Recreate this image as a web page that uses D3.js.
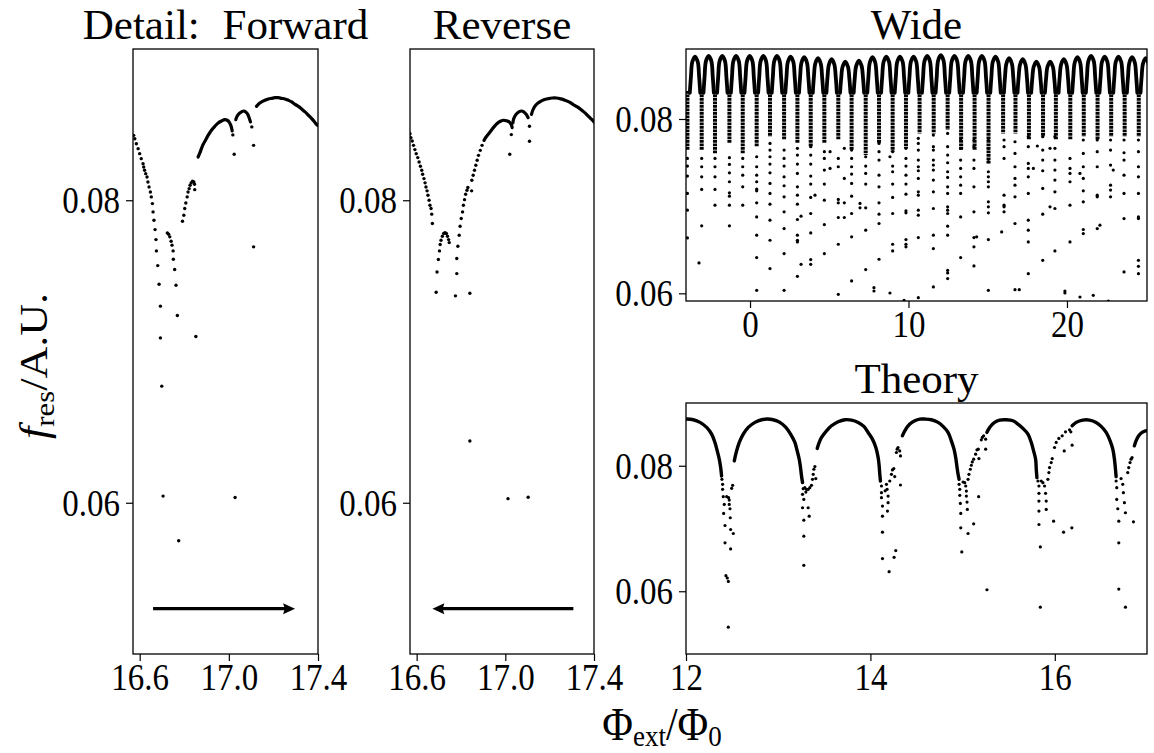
<!DOCTYPE html>
<html>
<head>
<meta charset="utf-8">
<script src="https://cdn.jsdelivr.net/npm/d3@7"></script>
<style>
  body { margin: 0; background: #fff; overflow: hidden; }
  text { font-family: "Liberation Serif", "Times New Roman", serif; fill: #000; }
</style>
</head>
<body>
<svg id="fig" width="1154" height="753"></svg>
<script>
// ---- data ----
const detailTicksX = [16.6, 17.0, 17.4];
const detailTicksY = [0.06, 0.08];
const wideTicksX = [0, 10, 20];
const wideTicksY = [0.06, 0.08];
const theoryTicksX = [12, 14, 16];
const theoryTicksY = [0.06, 0.08];

const arrowForward = [16.66, 17.297];
const arrowReverse = [17.307, 16.671];
const arrowLevel = 0.053;

// isolated points, Detail: Forward
const forwardDots = [
  [16.573,.08429],[16.578,.08407],[16.585,.08374],[16.593,.08341],[16.600,.08308],[16.607,.08275],[16.615,.08242],[16.618,.08220],
  [16.622,.08198],[16.627,.08176],[16.633,.08154],[16.637,.08121],[16.642,.08088],[16.648,.08055],[16.652,.08022],[16.657,.07978],
  [16.660,.07923],[16.664,.07868],[16.669,.07806],[16.673,.07740],[16.675,.07665],[16.681,.07568],
  [16.687,.07445],[16.693,.07300],[16.693,.07090],[16.699,.06771],[16.705,.06044],
  [16.724,.07784],[16.730,.07775],[16.735,.07758],[16.741,.07729],[16.745,.07703],[16.750,.07665],[16.751,.07610],[16.757,.07542],
  [16.763,.07438],[16.769,.07238],[16.775,.05749],[16.852,.07099],[17.028,.06035],
  [16.792,.07861],[16.798,.07901],[16.802,.07945],[16.807,.07982],[16.813,.08022],[16.817,.08055],[16.822,.08077],[16.826,.08099],
  [16.831,.08115],[16.837,.08126],[16.843,.08121],[16.846,.08106],[16.847,.08070],
  [17.018,.08432],[17.024,.08304],[17.103,.08485],[17.111,.08363],[17.111,.07692]
];
// densely sampled branches, Detail: Forward
const forwardArcs = [
  [[16.862,.08286],[16.870,.08313],[16.877,.08341],[16.885,.08370],[16.897,.08401],[16.907,.08429],[16.922,.08463],[16.937,.08489],
   [16.952,.08511],[16.967,.08524],[16.982,.08533],[16.993,.08529],[17.001,.08518],[17.007,.08502],[17.012,.08480],[17.015,.08458]],
  [[17.031,.08533],[17.037,.08555],[17.046,.08573],[17.057,.08584],[17.067,.08590],[17.076,.08584],[17.085,.08568],[17.091,.08546],[17.097,.08518]],
  [[17.124,.08621],[17.136,.08639],[17.147,.08650],[17.162,.08661],[17.177,.08670],[17.192,.08674],[17.207,.08678],[17.222,.08678],
   [17.237,.08674],[17.252,.08670],[17.267,.08661],[17.282,.08650],[17.297,.08634],[17.312,.08621],[17.327,.08603],[17.342,.08584],
   [17.357,.08562],[17.372,.08540],[17.387,.08513],[17.397,.08496]]
];

// isolated points, Reverse
const reverseDots = [
  [16.570,.08440],[16.574,.08414],[16.580,.08392],[16.586,.08363],[16.592,.08335],[16.598,.08308],[16.605,.08282],[16.611,.08253],
  [16.617,.08225],[16.623,.08198],[16.627,.08172],[16.633,.08143],[16.638,.08115],[16.642,.08088],[16.647,.08062],[16.651,.08033],
  [16.656,.08000],[16.660,.07967],[16.665,.07945],[16.668,.07908],[16.671,.07846],
  [16.692,.07526],[16.688,.07392],
  [16.698,.07608],[16.703,.07665],[16.706,.07707],[16.710,.07736],[16.716,.07762],[16.722,.07780],[16.728,.07786],[16.734,.07780],
  [16.739,.07762],[16.744,.07740],[16.747,.07720],
  [16.781,.07515],[16.775,.07368],[16.840,.07385],[16.840,.06408],[17.012,.06027],[17.103,.06036],
  [16.781,.07615],[16.786,.07696],[16.792,.07769],[16.796,.07828],[16.801,.07879],[16.807,.07923],[16.811,.07967],[16.816,.08004],
  [16.821,.08040],[16.827,.08066],[16.831,.08084],[16.848,.08062],
  [16.849,.08132],[16.855,.08165],[16.861,.08198],[16.867,.08231],[16.873,.08264],[16.879,.08297],[16.887,.08330],[16.895,.08363],
  [17.027,.08434],[17.020,.08304],[17.109,.08489],[17.109,.08390]
];
// densely sampled branches, Reverse
const reverseArcs = [
  [[16.904,.08396],[16.913,.08418],[16.925,.08440],[16.937,.08463],[16.949,.08485],[16.963,.08507],[16.978,.08522],[16.993,.08529],
   [17.008,.08524],[17.018,.08518],[17.026,.08502],[17.031,.08480]],
  [[17.034,.08511],[17.038,.08540],[17.049,.08568],[17.061,.08584],[17.073,.08590],[17.083,.08584],[17.094,.08568],[17.103,.08546]],
  [[17.118,.08568],[17.124,.08595],[17.133,.08621],[17.144,.08639],[17.159,.08654],[17.174,.08665],[17.194,.08672],[17.212,.08676],
   [17.230,.08676],[17.250,.08670],[17.269,.08661],[17.287,.08650],[17.305,.08634],[17.325,.08617],[17.345,.08595],[17.363,.08573],
   [17.378,.08551],[17.393,.08529],[17.405,.08511]]
];

// Wide: dense arch tops, one per flux period
const wideArches = [
  [[-3.80,.0830],[-3.73,.0848],[-3.64,.08656],[-3.47,.08716],[-3.30,.08656],[-3.21,.0848],[-3.14,.0830]],
  [[-2.94,.0830],[-2.87,.0848],[-2.78,.08664],[-2.61,.08724],[-2.44,.08664],[-2.35,.0848],[-2.28,.0830]],
  [[-2.08,.0830],[-2.01,.0848],[-1.92,.08664],[-1.75,.08724],[-1.58,.08664],[-1.49,.0848],[-1.42,.0830]],
  [[-1.21,.0830],[-1.14,.0848],[-1.05,.08664],[-0.88,.08724],[-0.71,.08664],[-0.62,.0848],[-0.55,.0830]],
  [[-0.35,.0830],[-0.28,.0848],[-0.19,.08664],[-0.02,.08724],[0.15,.08664],[0.24,.0848],[0.31,.0830]],
  [[0.51,.0830],[0.58,.0848],[0.67,.08664],[0.84,.08724],[1.01,.08664],[1.10,.0848],[1.17,.0830]],
  [[1.37,.0830],[1.44,.0848],[1.53,.08664],[1.70,.08724],[1.87,.08664],[1.96,.0848],[2.03,.0830]],
  [[2.23,.0830],[2.30,.0848],[2.39,.08656],[2.56,.08716],[2.73,.08656],[2.82,.0848],[2.89,.0830]],
  [[3.09,.0830],[3.16,.0848],[3.25,.08649],[3.42,.08709],[3.59,.08649],[3.68,.0848],[3.75,.0830]],
  [[3.96,.0830],[4.03,.0848],[4.12,.08637],[4.29,.08697],[4.46,.08637],[4.55,.0848],[4.62,.0830]],
  [[4.82,.0830],[4.89,.0848],[4.98,.08626],[5.15,.08686],[5.32,.08626],[5.41,.0848],[5.48,.0830]],
  [[5.68,.0830],[5.75,.0846],[5.84,.08599],[6.01,.08659],[6.18,.08599],[6.27,.0846],[6.34,.0830]],
  [[6.54,.0830],[6.61,.0847],[6.70,.0861],[6.87,.0867],[7.04,.0861],[7.13,.0847],[7.20,.0830]],
  [[7.40,.0830],[7.47,.0848],[7.56,.08649],[7.73,.08709],[7.90,.08649],[7.99,.0848],[8.06,.0830]],
  [[8.27,.0830],[8.34,.0848],[8.43,.08656],[8.60,.08716],[8.77,.08656],[8.86,.0848],[8.93,.0830]],
  [[9.13,.0830],[9.20,.0848],[9.29,.08656],[9.46,.08716],[9.63,.08656],[9.72,.0848],[9.79,.0830]],
  [[9.99,.0830],[10.06,.0848],[10.15,.08656],[10.32,.08716],[10.49,.08656],[10.58,.0848],[10.65,.0830]],
  [[10.85,.0830],[10.92,.0848],[11.01,.08664],[11.18,.08724],[11.35,.08664],[11.44,.0848],[11.51,.0830]],
  [[11.71,.0830],[11.78,.0848],[11.87,.08672],[12.04,.08732],[12.21,.08672],[12.30,.0848],[12.37,.0830]],
  [[12.57,.0830],[12.64,.0848],[12.73,.08664],[12.90,.08724],[13.07,.08664],[13.16,.0848],[13.23,.0830]],
  [[13.44,.0830],[13.51,.0848],[13.60,.08664],[13.77,.08724],[13.94,.08664],[14.03,.0848],[14.10,.0830]],
  [[14.30,.0830],[14.37,.0848],[14.46,.08664],[14.63,.08724],[14.80,.08664],[14.89,.0848],[14.96,.0830]],
  [[15.16,.0830],[15.23,.0848],[15.32,.08656],[15.49,.08716],[15.66,.08656],[15.75,.0848],[15.82,.0830]],
  [[16.02,.0830],[16.09,.0848],[16.18,.08637],[16.35,.08697],[16.52,.08637],[16.61,.0848],[16.68,.0830]],
  [[16.88,.0830],[16.95,.0848],[17.04,.08626],[17.21,.08686],[17.38,.08626],[17.47,.0848],[17.54,.0830]],
  [[17.74,.0830],[17.81,.0846],[17.90,.08599],[18.07,.08659],[18.24,.08599],[18.33,.0846],[18.40,.0830]],
  [[18.61,.0830],[18.68,.0846],[18.77,.08599],[18.94,.08659],[19.11,.08599],[19.20,.0846],[19.27,.0830]],
  [[19.47,.0830],[19.54,.0848],[19.63,.08626],[19.80,.08686],[19.97,.08626],[20.06,.0848],[20.13,.0830]],
  [[20.33,.0830],[20.40,.0848],[20.49,.08649],[20.66,.08709],[20.83,.08649],[20.92,.0848],[20.99,.0830]],
  [[21.19,.0830],[21.26,.0848],[21.35,.08664],[21.52,.08724],[21.69,.08664],[21.78,.0848],[21.85,.0830]],
  [[22.05,.0830],[22.12,.0848],[22.21,.08656],[22.38,.08716],[22.55,.08656],[22.64,.0848],[22.71,.0830]],
  [[22.92,.0830],[22.99,.0848],[23.08,.08656],[23.25,.08716],[23.42,.08656],[23.51,.0848],[23.58,.0830]],
  [[23.78,.0830],[23.85,.0848],[23.94,.08649],[24.11,.08709],[24.28,.08649],[24.37,.0848],[24.44,.0830]],
  [[24.64,.0830],[24.71,.0848],[24.80,.08637],[24.97,.08697],[25.14,.08637],[25.23,.0848],[25.30,.0830]]
];
// Wide: dense dip columns (x, lower end of the dense run)
const wideDipTop = 0.0832;
const wideDipX = [-3.95,-3.05,-2.21,-1.30,-0.46,0.42,1.26,2.15,2.99,3.83,4.69,5.57,6.41,7.30,8.14,9.00,9.84,
  10.70,11.59,12.47,13.32,14.17,15.05,15.97,16.75,17.60,18.49,19.30,20.21,21.06,21.93,22.79,23.64,24.53];
const wideDipEnd = [.07644,.07644,.07605,.07720,.07605,.07682,.07797,.07759,.07720,.07682,.07720,.07759,.07644,.07586,.07720,.07625,.07663,
  .07835,.07835,.07874,.07644,.07644,.07490,.07835,.07835,.07759,.07797,.07759,.07759,.07797,.07759,.07797,.07797,.07797];
// Wide: sparse points below the dense runs, by column
const wideDotCols = [
  [-3.95,[.07548,.0746,.07345,.07146,.06954,.06636]],
  [-3.22,[.06349]],
  [-3.05,[.07548,.07452,.07337,.07192,.06774]],
  [-2.21,[.07548,.07452,.07337,.07192,.07011]],
  [-1.30,[.07556,.07479,.07383,.0728,.07153,.07115,.07011,.06774]],
  [-0.46,[.07548,.07452,.07356,.07222,.07011]],
  [0.42,[.07567,.07452,.07356,.0728,.07195,.07176,.07038,.06877,.06667,.0641,.06034]],
  [1.26,[.0772,.07644,.07567,.07483,.07383,.07261,.07146,.07023,.06839,.06609,.06284]],
  [2.15,[.07644,.07548,.0746,.07337,.07234,.07107,.06935,.06743,.06456,.06034]],
  [2.99,[.07663,.07586,.07483,.07375,.07222,.07126,.07023,.06847,.06667,.06609,.0659,.06195]],
  [3.22,[.06885,.06333]],
  [3.83,[.07682,.07586,.07483,.07345,.07253,.071,.06916,.06693,.06387,.06333]],
  [4.10,[.07126]],
  [4.69,[.07625,.07548,.07414,.07253,.07069,.06789,.06456]],
  [5.05,[.07625,.07433]],
  [5.57,[.07548,.07452,.07077,.07038,.0687,.06563,.05989]],
  [5.95,[.07663,.07318,.07038,.0687]],
  [6.41,[.07644,.07548,.07452,.07368,.07261,.07115,.06916,.06648,.06142]],
  [6.94,[.07031,.06981]],
  [7.30,[.07567,.0746,.07375,.07253,.06981,.06724,.06272]],
  [7.82,[.06065,.06027]],
  [8.14,[.0772,.07625,.07529,.07356,.07222,.07038,.06908,.06801,.06391]],
  [8.83,[.07567,.06004]],
  [9.00,[.07625,.0746,.07395,.07253,.071,.06916,.06563,.06487]],
  [9.72,[.0592]],
  [9.84,[.07663,.07548,.0746,.07356,.07253,.07138,.06946,.06923,.06617,.06563,.06533]],
  [10.62,[.07778,.0772,.07644,.07529,.07452,.07406,.07318,.07165,.07126,.06954,.06897,.0664,.0595]],
  [11.57,[.07816,.07682,.07644,.07529,.07471,.07414,.07299,.07165,.06973,.06667,.06513,.06073]],
  [12.47,[.07835,.07682,.07586,.07498,.07395,.0733,.07222,.07146,.06992,.06954,.06916,.0677,.06667,.06264,.06234,.06169]],
  [13.29,[.07759,.07663,.07529,.07433,.07337,.07241,.07146,.06877,.0641]],
  [14.13,[.07759,.07682,.07529,.07433,.07222,.06935,.0664,.06533,.06314]],
  [14.30,[.06648]],
  [15.04,[.07759,.07663,.0751,.07395,.07337,.0728,.07222,.0705,.06992,.06923,.06617,.06034]],
  [15.88,[.06705]],
  [16.03,[.07759,.07682,.07548,.07126,.07011,.06992,.06935]],
  [16.72,[.07739,.07605,.07452,.07318,.07241,.07107,.06801,.06042]],
  [16.99,[.06042]],
  [17.56,[.07797,.07682,.0749,.07433,.07337,.07146,.06839,.06724,.0659,.06226]],
  [17.88,[.07433]],
  [18.13,[.0769]],
  [18.47,[.07797,.07644,.07529,.07406,.07203,.06908,.06379]],
  [18.93,[.07663,.06992]],
  [19.24,[.07797,.07663,.07529,.07414,.07299,.07165,.06973,.06487]],
  [19.87,[.06027,.06004]],
  [20.19,[.07548,.07433,.07375,.0728,.07011,.0659]],
  [20.82,[.07375,.05958]],
  [21.03,[.07759,.07605,.07452,.07318,.07176,.0705,.06732,.06686]],
  [21.66,[.05977]],
  [21.91,[.07759,.07625,.07452,.07126,.07107,.06743]],
  [22.08,[.06782]],
  [22.61,[.05912]],
  [22.75,[.07759,.07644,.07471,.07241,.07184,.07107]],
  [22.92,[.07414]],
  [23.60,[.07759,.07613,.07529,.07356,.07146,.06858,.06245]],
  [24.51,[.07759,.07625,.07452,.07337,.07146,.06877,.06858,.06379,.0631,.06226]]
];

// Theory: dense arches
const theoryArcs = [
  [[12.007,.08744],[12.079,.08733],[12.152,.08691],[12.224,.08611],[12.278,.08504],[12.314,.08371],[12.339,.08237],[12.361,.08104],[12.376,.07971],[12.386,.07837]],
  [[12.524,.08077],[12.531,.08131],[12.549,.08237],[12.578,.08371],[12.621,.08504],[12.675,.08611],[12.748,.08691],[12.820,.08733],[12.881,.08744],
   [12.946,.08733],[13.018,.08691],[13.083,.08611],[13.134,.08504],[13.181,.08371],[13.206,.08237],[13.228,.08104],[13.242,.07971],[13.253,.07837],[13.264,.07731]],
  [[13.423,.08275],[13.445,.08371],[13.470,.08451],[13.524,.08557],[13.578,.08637],[13.650,.08701],[13.723,.08733],[13.795,.08728],[13.867,.08691],
   [13.929,.08627],[13.975,.08531],[14.022,.08424],[14.059,.08291],[14.084,.08131],[14.095,.07997],[14.102,.07864],[14.109,.07757]],
  [[14.347,.08477],[14.373,.08557],[14.427,.08664],[14.481,.08717],[14.535,.08744],[14.589,.08744],[14.661,.08733],[14.734,.08691],[14.788,.08627],
   [14.842,.08531],[14.878,.08397],[14.907,.08264],[14.925,.08131],[14.940,.07971],[14.951,.07864],[14.962,.07784]],
  [[15.264,.08531],[15.293,.08611],[15.347,.08691],[15.402,.08728],[15.474,.08733],[15.546,.08717],[15.600,.08664],[15.654,.08595],[15.709,.08504],
   [15.745,.08371],[15.770,.08237],[15.792,.08104],[15.799,.07944],[15.806,.07811]],
  [[16.188,.08637],[16.232,.08691],[16.304,.08728],[16.376,.08728],[16.448,.08691],[16.503,.08627],[16.557,.08531],[16.600,.08397],[16.629,.08264],
   [16.647,.08104],[16.658,.07944],[16.665,.07827]],
  [[16.863,.08317],[16.881,.08397],[16.910,.08477],[16.947,.08531],[16.983,.08557],[17.008,.08557]]
];
// Theory: scattered points
const theoryDots = [
  [12.390,.07784],[12.397,.07704],[12.397,.07624],[12.404,.07507],[12.441,.07507],[12.462,.07491],[12.469,.07453],[12.415,.07384],[12.469,.07384],
  [12.408,.0724],[12.477,.07315],[12.480,.07171],[12.423,.07048],[12.484,.06984],[12.513,.0692],[12.423,.06771],[12.484,.06675],[12.433,.06248],
  [12.448,.06211],[12.459,.06157],[12.459,.05427],[12.495,.0764],[12.506,.07688],
  [13.271,.07635],[13.289,.07651],[13.307,.07624],[13.325,.07624],[13.343,.07651],[13.264,.07544],[13.278,.07464],[13.264,.07331],[13.325,.07331],
  [13.278,.07133],[13.336,.07197],[13.278,.06877],[13.278,.06413],[13.361,.07688],[13.372,.07784],[13.380,.07864],[13.387,.07944],[13.398,.07987],
  [13.408,.07795],[13.300,.07580],
  [14.120,.07677],[14.120,.07571],[14.120,.07491],[14.131,.07357],[14.131,.07197],[14.131,.06941],[14.131,.0652],[14.174,.07704],[14.181,.07624],
  [14.192,.07517],[14.192,.07411],[14.185,.07277],[14.203,.06312],[14.257,.06541],[14.275,.06648],[14.210,.07757],[14.228,.07864],[14.239,.07933],
  [14.254,.07955],[14.264,.07827],[14.282,.08211],[14.290,.08264],[14.300,.08291],[14.318,.08237],[14.326,.08157],[14.326,.07693],[14.160,.07600],
  [14.962,.07704],[14.969,.07624],[14.969,.07528],[14.976,.074],[14.980,.0724],[14.980,.07011],[14.991,.06627],[15.005,.07741],[15.023,.07731],
  [15.034,.07677],[15.041,.07597],[15.041,.07517],[15.048,.07421],[15.051,.07304],[15.059,.0692],[15.120,.07075],[15.174,.07507],[15.264,.06024],
  [15.059,.07784],[15.069,.07864],[15.084,.07944],[15.095,.08008],[15.105,.08061],[15.120,.08104],[15.141,.08184],[15.156,.08253],[15.170,.08264],
  [15.177,.08115],[15.203,.08413],[15.214,.08451],[15.228,.08477],[15.250,.08424],[15.250,.08264],
  [15.817,.07757],[15.828,.07677],[15.828,.0756],[15.828,.07437],[15.828,.07277],[15.828,.07064],[15.843,.06707],[15.843,.05747],[15.853,.07757],
  [15.871,.07731],[15.889,.07677],[15.900,.0756],[15.907,.07437],[15.907,.07304],[15.987,.07117],[16.095,.06941],[16.185,.07011],[16.102,.08237],
  [16.188,.08328],[15.925,.07784],[15.936,.07891],[15.943,.07971],[15.961,.08051],[15.972,.08115],[15.997,.08291],[16.015,.08371],[16.044,.08435],
  [16.080,.08477],[16.116,.08541],[16.160,.08573],[16.174,.08541],
  [16.665,.07757],[16.672,.07651],[16.672,.07464],[16.683,.07315],[16.694,.07117],[16.694,.06771],[16.694,.06035],[16.766,.05747],[16.719,.07795],
  [16.737,.07704],[16.744,.07571],[16.755,.07411],[16.766,.07251],[16.853,.07107],[16.791,.07891],[16.802,.07971],[16.816,.08051],[16.827,.08104],
  [16.838,.08131]
];

// ---- drawing ----
const svg = d3.select("#fig");
svg.append("rect").attr("width", 1154).attr("height", 753).attr("fill", "#fff");
const TICK_STRETCH = 1.15;
const arcLine = d3.line().curve(d3.curveCatmullRom);

function makePanel(id, box, xDom, yDom, xTicks, yTicks, xFmt, yFmt) {
  const x = d3.scaleLinear().domain(xDom).range([box.l, box.r]);
  const y = d3.scaleLinear().domain(yDom).range([box.b, box.t]);
  svg.append("clipPath").attr("id", id).append("rect")
    .attr("x", box.l).attr("y", box.t).attr("width", box.r - box.l).attr("height", box.b - box.t);

  const gx = svg.append("g").attr("transform", `translate(0,${box.b})`)
    .call(d3.axisBottom(x).tickValues(xTicks).tickFormat(xFmt).tickSize(7).tickSizeOuter(0));
  const gy = svg.append("g").attr("transform", `translate(${box.l},0)`)
    .call(d3.axisLeft(y).tickValues(yTicks).tickFormat(yFmt).tickSize(7).tickSizeOuter(0));
  [gx, gy].forEach(g => {
    g.select(".domain").remove();
    g.selectAll(".tick line").attr("stroke", "#000").attr("stroke-width", 1.2);
    g.selectAll(".tick text").attr("x", null).attr("y", null).attr("dy", null).attr("font-size", 33);
  });
  gx.selectAll(".tick text").attr("transform", `translate(0,36) scale(1,${TICK_STRETCH})`);
  gy.selectAll(".tick text").attr("transform", `translate(-13,12.5) scale(1,${TICK_STRETCH})`);

  const g = svg.append("g").attr("clip-path", `url(#${id})`);
  return { x, y, g, box };
}

function frame(p) {
  svg.append("rect").attr("x", p.box.l).attr("y", p.box.t)
    .attr("width", p.box.r - p.box.l).attr("height", p.box.b - p.box.t)
    .attr("fill", "none").attr("stroke", "#000").attr("stroke-width", 1.3);
}

function drawDots(p, dots, r) {
  p.g.selectAll(null).data(dots).join("circle")
    .attr("cx", d => p.x(d[0])).attr("cy", d => p.y(d[1])).attr("r", r).attr("fill", "#000");
}

function drawArcs(p, arcs, w) {
  p.g.selectAll(null).data(arcs).join("path")
    .attr("d", a => arcLine(a.map(d => [p.x(d[0]), p.y(d[1])])))
    .attr("fill", "none").attr("stroke", "#000").attr("stroke-width", w)
    .attr("stroke-linecap", "round").attr("stroke-linejoin", "round");
}

function drawArrow(p, xs, yv) {
  const x0 = p.x(xs[0]), x1 = p.x(xs[1]), yy = p.y(yv);
  const dir = Math.sign(x1 - x0), head = 12;
  p.g.append("line").attr("x1", x0).attr("x2", x1 - dir * head * 0.8).attr("y1", yy).attr("y2", yy)
    .attr("stroke", "#000").attr("stroke-width", 3.2);
  p.g.append("path")
    .attr("d", `M${x1},${yy} L${x1 - dir * head},${yy - 5.5} L${x1 - dir * head * 0.85},${yy} L${x1 - dir * head},${yy + 5.5} Z`)
    .attr("fill", "#000");
}

function title(p, label, spacing) {
  svg.append("text").attr("text-anchor", "middle").attr("font-size", 43)
    .attr("word-spacing", spacing || 0)
    .attr("x", (p.box.l + p.box.r) / 2).attr("y", p.box.t - 10)
    .text(label);
}

const f1 = d3.format(".1f"), f2 = d3.format(".2f"), f0 = d3.format("d");

// Detail: Forward
const pF = makePanel("clipF", { l: 133, r: 318, t: 49, b: 654 }, [16.57, 17.4], [0.05, 0.09],
  detailTicksX, detailTicksY, f1, f2);
drawArcs(pF, forwardArcs, 3.2);
drawDots(pF, forwardDots, 1.7);
drawArrow(pF, arrowForward, arrowLevel);
frame(pF);
title(pF, "Detail: Forward", 12);

// Reverse
const pR = makePanel("clipR", { l: 410, r: 594, t: 49, b: 654 }, [16.57, 17.4], [0.05, 0.09],
  detailTicksX, detailTicksY, f1, f2);
drawArcs(pR, reverseArcs, 3.2);
drawDots(pR, reverseDots, 1.7);
drawArrow(pR, arrowReverse, arrowLevel);
frame(pR);
title(pR, "Reverse");

// Wide
const pW = makePanel("clipW", { l: 686, r: 1147, t: 49, b: 301 }, [-4.04, 25.05], [0.05912, 0.08803],
  wideTicksX, wideTicksY, f0, f2);
pW.g.selectAll(null).data(wideDipX.map((x, i) => [x, wideDipEnd[i]])).join("line")
  .attr("x1", d => pW.x(d[0])).attr("x2", d => pW.x(d[0]))
  .attr("y1", pW.y(wideDipTop)).attr("y2", d => pW.y(d[1]))
  .attr("stroke", "#000").attr("stroke-width", 4).attr("stroke-dasharray", "2.6,0.9");
drawArcs(pW, wideArches, 3.8);
drawDots(pW, wideDotCols.flatMap(([x, ys]) => ys.map(v => [x, v])), 1.6);
frame(pW);
title(pW, "Wide");

// Theory
const pT = makePanel("clipT", { l: 686, r: 1147, t: 403, b: 654 }, [12, 17], [0.05, 0.09],
  theoryTicksX, theoryTicksY, f0, f2);
drawArcs(pT, theoryArcs, 3.4);
drawDots(pT, theoryDots, 1.6);
frame(pT);
title(pT, "Theory");

// shared axis labels
const xl = svg.append("text").attr("text-anchor", "middle").attr("font-size", 42)
  .attr("transform", "translate(662,740) scale(1,1.1)");
xl.append("tspan").text("Φ");
xl.append("tspan").attr("font-size", 27).attr("dy", 5).text("ext");
xl.append("tspan").attr("dy", -5).text("/Φ");
xl.append("tspan").attr("font-size", 27).attr("dy", 5).text("0");

const yl = svg.append("text").attr("text-anchor", "middle").attr("font-size", 40)
  .attr("transform", "translate(47,366) scale(1,1.1) rotate(-90)");
yl.append("tspan").attr("font-style", "italic").text("f");
yl.append("tspan").attr("font-size", 28).attr("dy", 7).text("res");
yl.append("tspan").attr("dy", -7).text("/A.U.");
</script>
</body>
</html>
